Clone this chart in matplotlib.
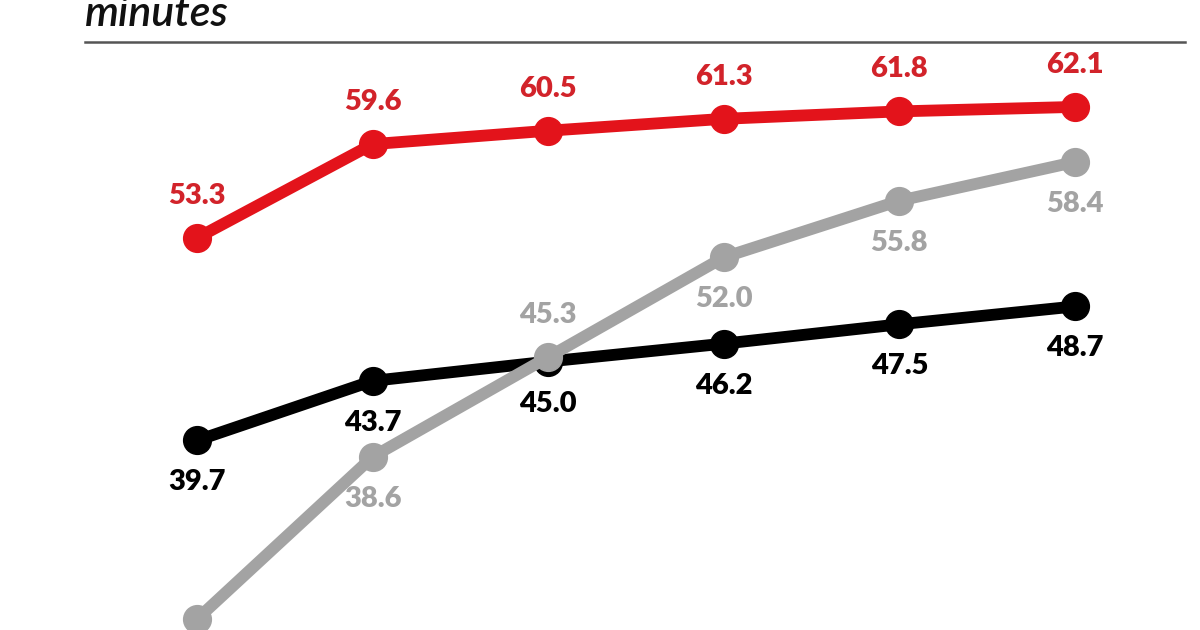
import matplotlib
matplotlib.use("Agg")
import matplotlib.pyplot as plt
from matplotlib.lines import Line2D

periods = [0, 1, 2, 3, 4, 5]
red_vals = [53.3, 59.6, 60.5, 61.3, 61.8, 62.1]
black_vals = [39.7, 43.7, 45.0, 46.2, 47.5, 48.7]
gray_vals = [27.7, 38.6, 45.3, 52.0, 55.8, 58.4]
# label placement: +1 above, -1 below, 0 none
red_pos = [1, 1, 1, 1, 1, 1]
black_pos = [-1, -1, -1, -1, -1, -1]
gray_pos = [0, -1, 1, -1, -1, -1]

fig = plt.figure(figsize=(12, 6.3), dpi=100)
ax = fig.add_axes([0, 0, 1, 1])
ax.set_xlim(-1.122, 5.712)
ax.set_ylim(26.97, 69.28)
ax.axis("off")

series = [
    (black_vals, black_pos, "#000000", "#000000"),
    (gray_vals, gray_pos, "#a3a3a3", "#a3a3a3"),
    (red_vals, red_pos, "#e3131b", "#d2232a"),
]
for vals, pos, col, lcol in series:
    ax.plot(periods, vals, color=col, lw=8.5, marker="o", ms=20,
            solid_capstyle="round", zorder=3)
    for x, v, p in zip(periods, vals, pos):
        if p == 0:
            continue
        ax.annotate(f"{v:.1f}", (x, v), xytext=(0, 42 * p),
                    textcoords="offset pixels", ha="center", va="center",
                    fontsize=21, fontweight="heavy", color=lcol,
                    family="Lato", zorder=4)

fig.add_artist(Line2D([85 / 1200, 1185 / 1200], [1 - 42 / 630, 1 - 42 / 630],
                      color="#555555", lw=1.8, transform=fig.transFigure))
fig.text(85 / 1200, 1 - 26 / 630, "minutes", fontsize=31, style="italic",
         fontweight="semibold", family="Lato", color="#111111",
         ha="left", va="baseline")

fig.savefig("out.png", dpi=100)
